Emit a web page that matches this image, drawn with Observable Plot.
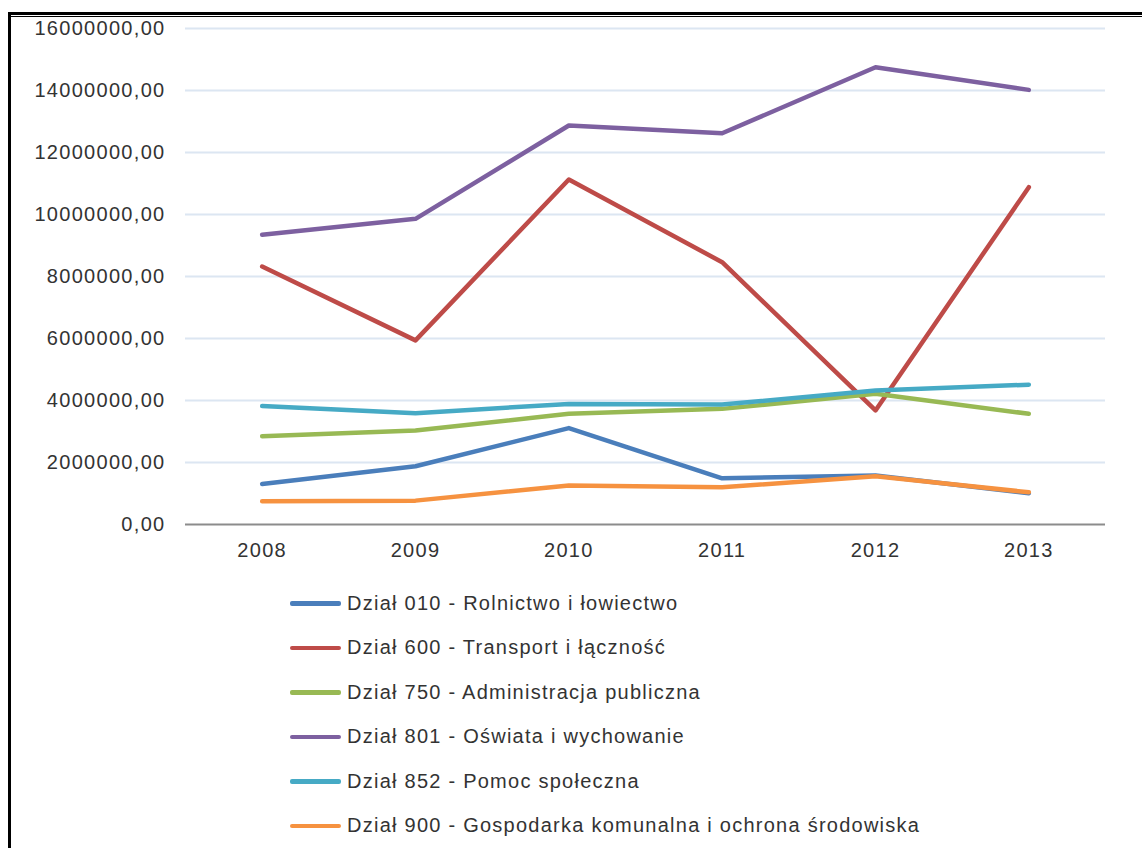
<!DOCTYPE html>
<html>
<head>
<meta charset="utf-8">
<script src="https://cdn.jsdelivr.net/npm/d3@7"></script>
<script src="https://cdn.jsdelivr.net/npm/@observablehq/plot@0.6"></script>
<style>
  html, body { margin: 0; padding: 0; background: #fff; }
  body { width: 1142px; height: 848px; position: relative; overflow: hidden; font-family: "Liberation Sans", Arial, sans-serif; }
  #frameTop { position: absolute; left: 8px; top: 12px; width: 1200px; height: 3px; background: #000; }
  #frameTop2 { position: absolute; left: 8px; top: 16px; width: 1200px; height: 1px; background: #000; }
  #frameLeft { position: absolute; left: 8px; top: 12px; width: 3px; height: 900px; background: #000; }
  #chart { position: absolute; left: 0; top: 0; }
  #legend { position: absolute; left: 290px; top: 581px; }
  .item { height: 44.5px; display: flex; align-items: center; font-size: 20px; color: #333; letter-spacing: 1.25px; }
  .sw { width: 51px; height: 4.5px; border-radius: 2px; margin-right: 6px; }
</style>
</head>
<body>
<div id="chart"></div>
<div id="legend"></div>
<div id="frameTop"></div>
<div id="frameTop2"></div>
<div id="frameLeft"></div>
<script>
const years = [2008, 2009, 2010, 2011, 2012, 2013];
const seriesNames = [
  "Dział 010 - Rolnictwo i łowiectwo",
  "Dział 600 - Transport i łączność",
  "Dział 750 - Administracja publiczna",
  "Dział 801 - Oświata i wychowanie",
  "Dział 852 - Pomoc społeczna",
  "Dział 900 - Gospodarka komunalna i ochrona środowiska"
];
const seriesColors = ["#4a7ebb", "#be4b48", "#98b954", "#7d60a0", "#46aac5", "#f69240"];
const dzial010 = [1310000, 1880000, 3110000, 1490000, 1580000, 1010000];
const dzial600 = [8320000, 5940000, 11130000, 8460000, 3680000, 10880000];
const dzial750 = [2850000, 3030000, 3570000, 3730000, 4220000, 3570000];
const dzial801 = [9350000, 9860000, 12870000, 12620000, 14750000, 14020000];
const dzial852 = [3820000, 3590000, 3890000, 3870000, 4320000, 4510000];
const dzial900 = [750000, 770000, 1260000, 1200000, 1560000, 1040000];
const yTicks = [0, 2000000, 4000000, 6000000, 8000000, 10000000, 12000000, 14000000, 16000000];

const allSeries = [dzial010, dzial600, dzial750, dzial801, dzial852, dzial900];
const data = [];
allSeries.forEach((vals, i) => {
  vals.forEach((v, j) => data.push({ series: seriesNames[i], year: years[j], value: v }));
});

const fmt = d => d.toFixed(2).replace(".", ",");

const plot = Plot.plot({
  width: 1142,
  height: 570,
  marginLeft: 185,
  marginRight: 37,
  marginTop: 28,
  marginBottom: 46,
  style: { fontFamily: "'Liberation Sans', Arial, sans-serif", fontSize: "20px", color: "#333", background: "transparent", letterSpacing: "1.3px" },
  x: { domain: [2007.5, 2013.5], ticks: years, tickFormat: d => String(d), label: null, tickSize: 0, tickPadding: 18 },
  y: { domain: [0, 16000000], ticks: yTicks, tickFormat: fmt, label: null, tickSize: 0, tickPadding: 20 },
  color: { domain: seriesNames, range: seriesColors },
  marks: [
    Plot.ruleY(yTicks.filter(d => d > 0), { stroke: "#dce6f2", strokeWidth: 2 }),
    Plot.ruleY([0], { stroke: "#8c8c8c", strokeWidth: 2 }),
    Plot.line(data, { x: "year", y: "value", z: "series", stroke: "series", strokeWidth: 4.5, strokeLinejoin: "round", strokeLinecap: "round" })
  ]
});
document.getElementById("chart").appendChild(plot);

const legend = document.getElementById("legend");
seriesNames.forEach((name, i) => {
  const item = document.createElement("div");
  item.className = "item";
  const sw = document.createElement("div");
  sw.className = "sw";
  sw.style.background = seriesColors[i];
  const t = document.createElement("span");
  t.textContent = name;
  item.appendChild(sw);
  item.appendChild(t);
  legend.appendChild(item);
});
</script>
</body>
</html>
